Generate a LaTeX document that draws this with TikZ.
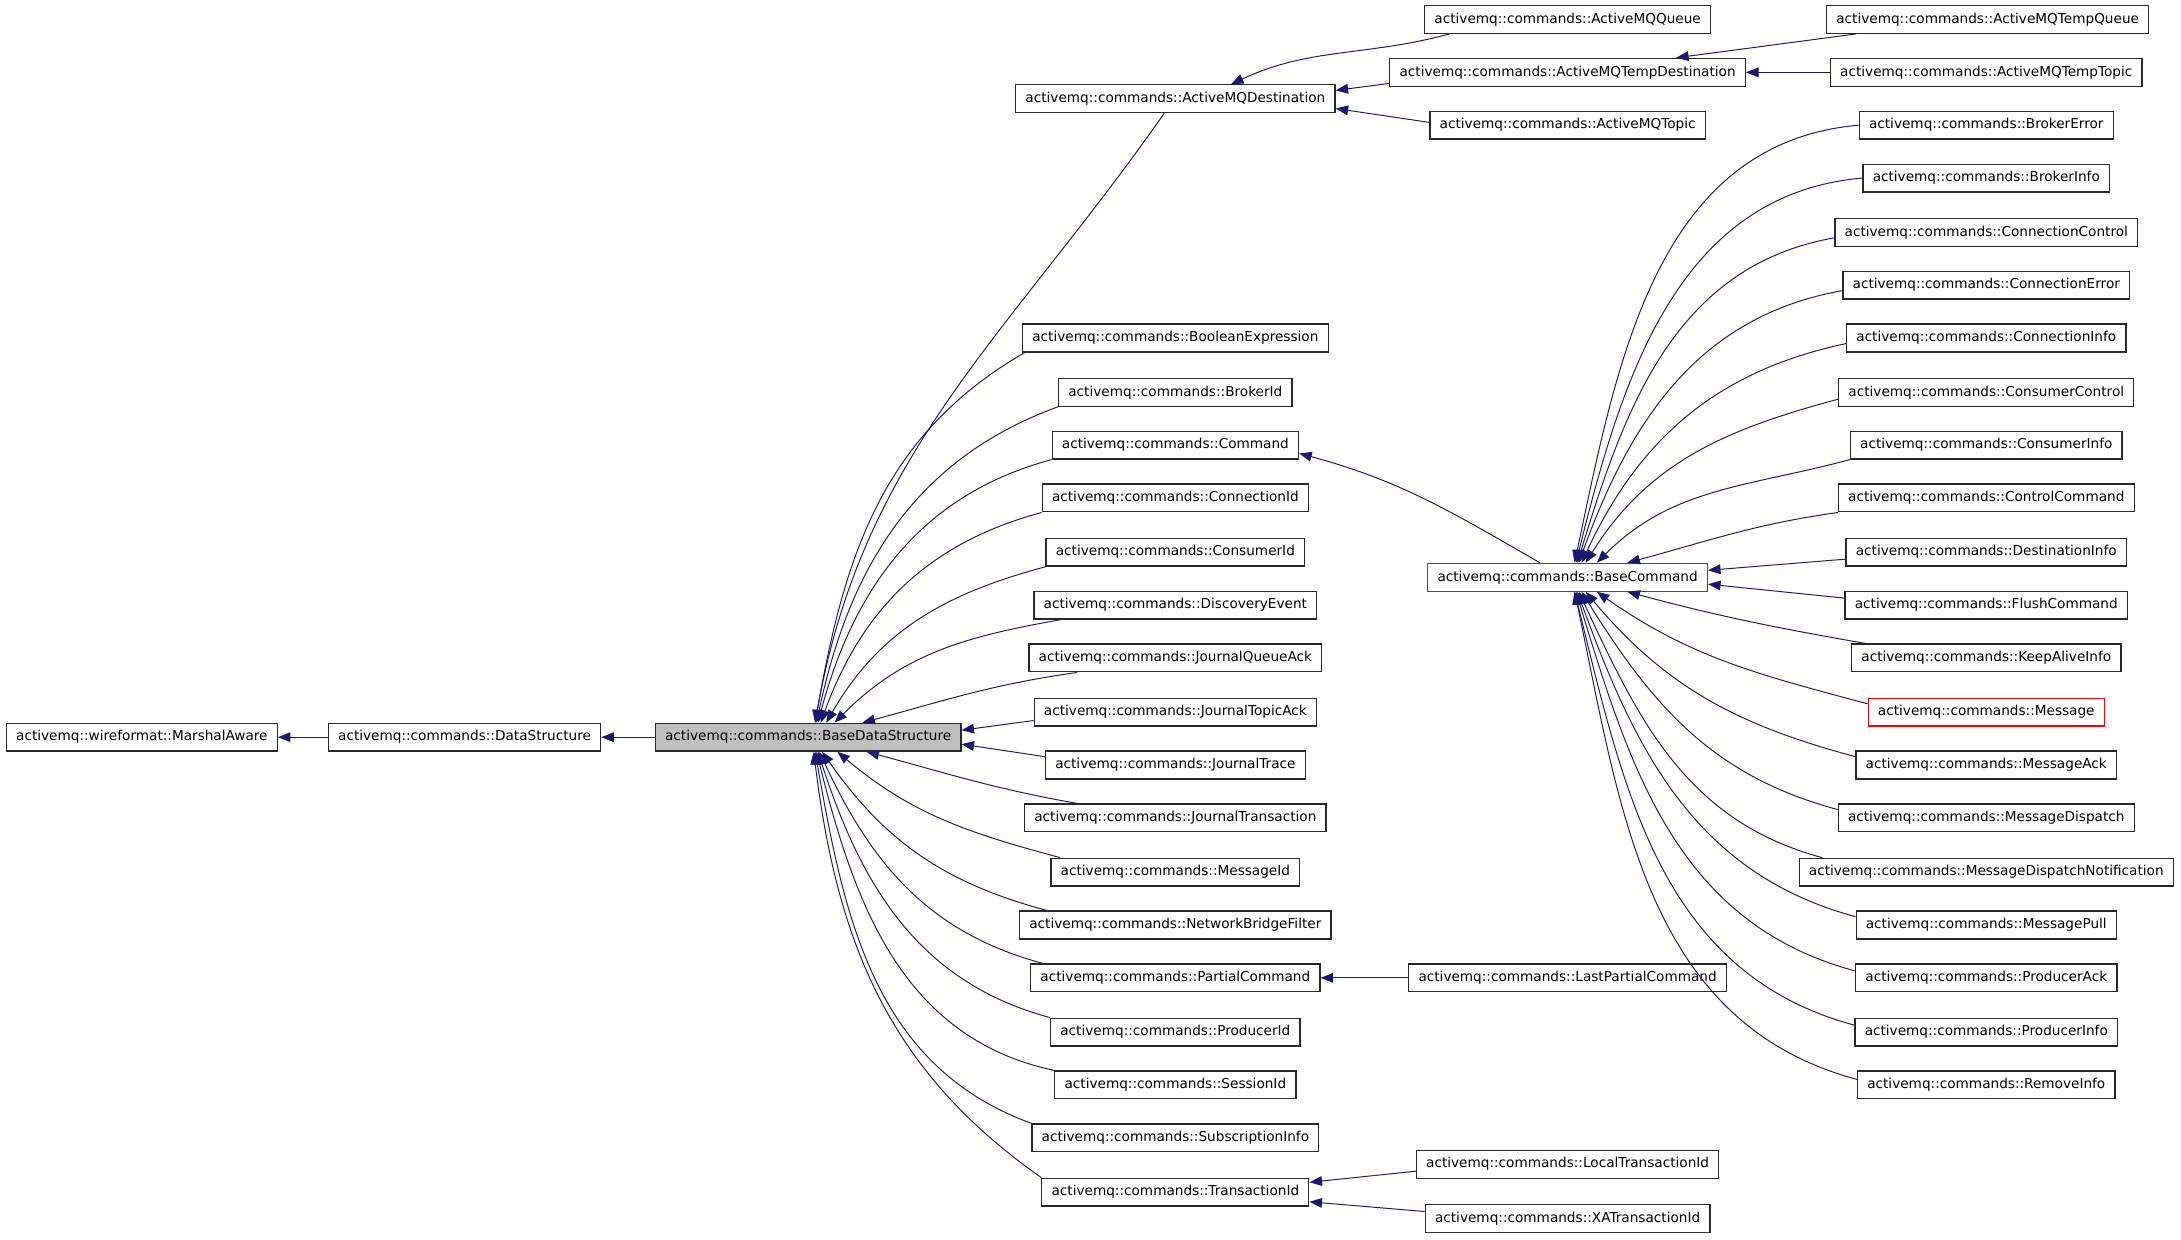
\documentclass[tikz,border=0pt]{standalone}
\usepackage{fontspec}
\setmainfont{DejaVu Sans}
\usetikzlibrary{arrows.meta}
\definecolor{edgeblue}{RGB}{25,25,112}
\definecolor{boxgray}{RGB}{191,191,191}
\definecolor{boxline}{RGB}{40,40,40}

\begin{document}
\begin{tikzpicture}[x=1pt,y=1pt,
  cls/.style={draw=boxline,line width=0.9pt,fill=white,inner xsep=7pt,inner ysep=2pt,
    minimum height=20pt,font=\fontsize{9.8}{12}\selectfont},
  cur/.style={cls,fill=boxgray},
  hot/.style={cls,draw=red},
  inh/.style={draw=edgeblue,line width=0.7pt,-{Triangle[length=9pt,width=7pt]}}]
\useasboundingbox (0,0) rectangle (1568,-891);

% base chain
\node[cls] (marshal) at (102,-530) {activemq::wireformat::MarshalAware};
\node[cls] (datastruct) at (334,-530) {activemq::commands::DataStructure};
\node[cur] (base) at (581,-530) {activemq::commands::BaseDataStructure};

% direct subclasses
\node[cls] (amqdest) at (845,-71) {activemq::commands::ActiveMQDestination};
\node[cls] (boolexpr) at (845,-243) {activemq::commands::BooleanExpression};
\node[cls] (brokerid) at (845,-282) {activemq::commands::BrokerId};
\node[cls] (command) at (845,-320) {activemq::commands::Command};
\node[cls] (connid) at (845,-358) {activemq::commands::ConnectionId};
\node[cls] (consumerid) at (845,-397) {activemq::commands::ConsumerId};
\node[cls] (discovery) at (845,-435) {activemq::commands::DiscoveryEvent};
\node[cls] (jqack) at (845,-473) {activemq::commands::JournalQueueAck};
\node[cls] (jtack) at (845,-512) {activemq::commands::JournalTopicAck};
\node[cls] (jtrace) at (845,-550) {activemq::commands::JournalTrace};
\node[cls] (jtrans) at (845,-588) {activemq::commands::JournalTransaction};
\node[cls] (messageid) at (845,-627) {activemq::commands::MessageId};
\node[cls] (nbf) at (845,-665) {activemq::commands::NetworkBridgeFilter};
\node[cls] (partial) at (845,-703) {activemq::commands::PartialCommand};
\node[cls] (producerid) at (845,-742) {activemq::commands::ProducerId};
\node[cls] (sessionid) at (845,-780) {activemq::commands::SessionId};
\node[cls] (subinfo) at (845,-818) {activemq::commands::SubscriptionInfo};
\node[cls] (transid) at (845,-857) {activemq::commands::TransactionId};

% second level
\node[cls] (amqqueue) at (1127,-14) {activemq::commands::ActiveMQQueue};
\node[cls] (amqtempdest) at (1127,-52) {activemq::commands::ActiveMQTempDestination};
\node[cls] (amqtopic) at (1127,-90) {activemq::commands::ActiveMQTopic};
\node[hot] (basecmd) at (1127,-415) {activemq::commands::BaseCommand};
\node[cls] (lastpartial) at (1127,-703) {activemq::commands::LastPartialCommand};
\node[cls] (localtrans) at (1127,-837) {activemq::commands::LocalTransactionId};
\node[cls] (xatrans) at (1127,-876) {activemq::commands::XATransactionId};

% third level
\node[cls] (tempqueue) at (1429,-14) {activemq::commands::ActiveMQTempQueue};
\node[cls] (temptopic) at (1428,-52) {activemq::commands::ActiveMQTempTopic};
\node[cls] (brokererror) at (1428,-90) {activemq::commands::BrokerError};
\node[cls] (brokerinfo) at (1428,-128) {activemq::commands::BrokerInfo};
\node[cls] (connctrl) at (1428,-167) {activemq::commands::ConnectionControl};
\node[cls] (connerror) at (1428,-205) {activemq::commands::ConnectionError};
\node[cls] (conninfo) at (1428,-243) {activemq::commands::ConnectionInfo};
\node[cls] (consctrl) at (1428,-282) {activemq::commands::ConsumerControl};
\node[cls] (consinfo) at (1428,-320) {activemq::commands::ConsumerInfo};
\node[cls] (ctrlcmd) at (1428,-358) {activemq::commands::ControlCommand};
\node[cls] (destinfo) at (1428,-397) {activemq::commands::DestinationInfo};
\node[cls] (flush) at (1428,-435) {activemq::commands::FlushCommand};
\node[cls] (keepalive) at (1428,-473) {activemq::commands::KeepAliveInfo};
\node[hot] (message) at (1428,-512) {activemq::commands::Message};
\node[cls] (messageack) at (1428,-550) {activemq::commands::MessageAck};
\node[cls] (msgdispatch) at (1428,-588) {activemq::commands::MessageDispatch};
\node[cls] (mdn) at (1428,-627) {activemq::commands::MessageDispatchNotification};
\node[cls] (msgpull) at (1428,-665) {activemq::commands::MessagePull};
\node[cls] (producerack) at (1428,-703) {activemq::commands::ProducerAck};
\node[cls] (producerinfo) at (1428,-742) {activemq::commands::ProducerInfo};
\node[cls] (removeinfo) at (1428,-780) {activemq::commands::RemoveInfo};

% inheritance arrows
\draw[inh] (datastruct) -- (marshal);
\draw[inh] (base) -- (datastruct);

\draw[inh] ([xshift=-8]amqdest.south) to[out=235,in=80] ([xshift=5]base.north);
\draw[inh] ([xshift=2]boolexpr.south west) to[out=210,in=80] ([xshift=5]base.north);
\draw[inh] (brokerid.south west) to[out=200,in=78] ([xshift=6]base.north);
\draw[inh] (command.south west) to[out=195,in=75] ([xshift=7]base.north);
\draw[inh] (connid.south west) to[out=195,in=70] ([xshift=9]base.north);
\draw[inh] (consumerid.south west) to[out=195,in=60] ([xshift=13]base.north);
\draw[inh] ([xshift=20]discovery.south west) to[out=190,in=45] ([xshift=19]base.north);
\draw[inh] ([xshift=35]jqack.south west) to[out=188,in=15] ([xshift=39]base.north);
\draw[inh] ([yshift=-6]jtack.west) -- ([yshift=5]base.east);
\draw[inh] ([yshift=6]jtrace.west) -- ([yshift=-5]base.east);
\draw[inh] ([xshift=38]jtrans.north west) to[out=170,in=-15] ([xshift=42]base.south);
\draw[inh] ([xshift=7]messageid.north west) to[out=165,in=-40] ([xshift=21]base.south);
\draw[inh] ([xshift=20]nbf.north west) to[out=165,in=-55] ([xshift=10]base.south);
\draw[inh] ([xshift=9]partial.north west) to[out=165,in=-65] ([xshift=8]base.south);
\draw[inh] (producerid.north west) to[out=165,in=-72] ([xshift=7]base.south);
\draw[inh] (sessionid.north west) to[out=168,in=-76] ([xshift=6]base.south);
\draw[inh] (subinfo.north west) to[out=160,in=-80] ([xshift=5]base.south);
\draw[inh] (transid.north west) to[out=145,in=-83] ([xshift=4]base.south);

\draw[inh] ([xshift=-85]amqqueue.south) to[out=195,in=25] ([xshift=40]amqdest.north);
\draw[inh] ([yshift=-8]amqtempdest.west) -- ([yshift=6]amqdest.east);
\draw[inh] ([yshift=2]amqtopic.west) -- ([yshift=-7]amqdest.east);
\draw[inh] ([xshift=-95]tempqueue.south) -- ([xshift=78]amqtempdest.north);
\draw[inh] (temptopic) -- (amqtempdest);

\draw[inh] ([xshift=-20]basecmd.north) to[out=150,in=-15] ([yshift=-6]command.east);
\draw[inh] (lastpartial) -- (partial);
\draw[inh] ([yshift=-5]localtrans.west) -- ([yshift=7]transid.east);
\draw[inh] ([yshift=5]xatrans.west) -- ([yshift=-7]transid.east);

\draw[inh] (brokererror.west) to[out=185,in=78] ([xshift=5]basecmd.north);
\draw[inh] (brokerinfo.west) to[out=185,in=76] ([xshift=6]basecmd.north);
\draw[inh] ([yshift=-4]connctrl.west) to[out=190,in=73] ([xshift=7]basecmd.north);
\draw[inh] ([yshift=-4]connerror.west) to[out=190,in=70] ([xshift=8]basecmd.north);
\draw[inh] ([yshift=-4]conninfo.west) to[out=192,in=65] ([xshift=10]basecmd.north);
\draw[inh] ([yshift=-5]consctrl.west) to[out=195,in=58] ([xshift=13]basecmd.north);
\draw[inh] (consinfo.south west) to[out=195,in=45] ([xshift=21]basecmd.north);
\draw[inh] (ctrlcmd.south west) to[out=188,in=15] ([xshift=43]basecmd.north);
\draw[inh] ([yshift=-5]destinfo.west) -- ([yshift=5]basecmd.east);
\draw[inh] ([yshift=5]flush.west) -- ([yshift=-5]basecmd.east);
\draw[inh] ([xshift=10]keepalive.north west) to[out=170,in=-15] ([xshift=43]basecmd.south);
\draw[inh] ([yshift=6]message.west) to[out=165,in=-35] ([xshift=21]basecmd.south);
\draw[inh] ([yshift=6]messageack.west) to[out=165,in=-50] ([xshift=13]basecmd.south);
\draw[inh] ([yshift=6]msgdispatch.west) to[out=165,in=-58] ([xshift=10]basecmd.south);
\draw[inh] ([xshift=17]mdn.north west) to[out=165,in=-65] ([xshift=8]basecmd.south);
\draw[inh] ([yshift=6]msgpull.west) to[out=165,in=-70] ([xshift=7]basecmd.south);
\draw[inh] ([yshift=5]producerack.west) to[out=165,in=-73] ([xshift=6]basecmd.south);
\draw[inh] ([yshift=5]producerinfo.west) to[out=165,in=-76] ([xshift=5]basecmd.south);
\draw[inh] ([yshift=4]removeinfo.west) to[out=165,in=-78] ([xshift=5]basecmd.south);
\end{tikzpicture}
\end{document}
